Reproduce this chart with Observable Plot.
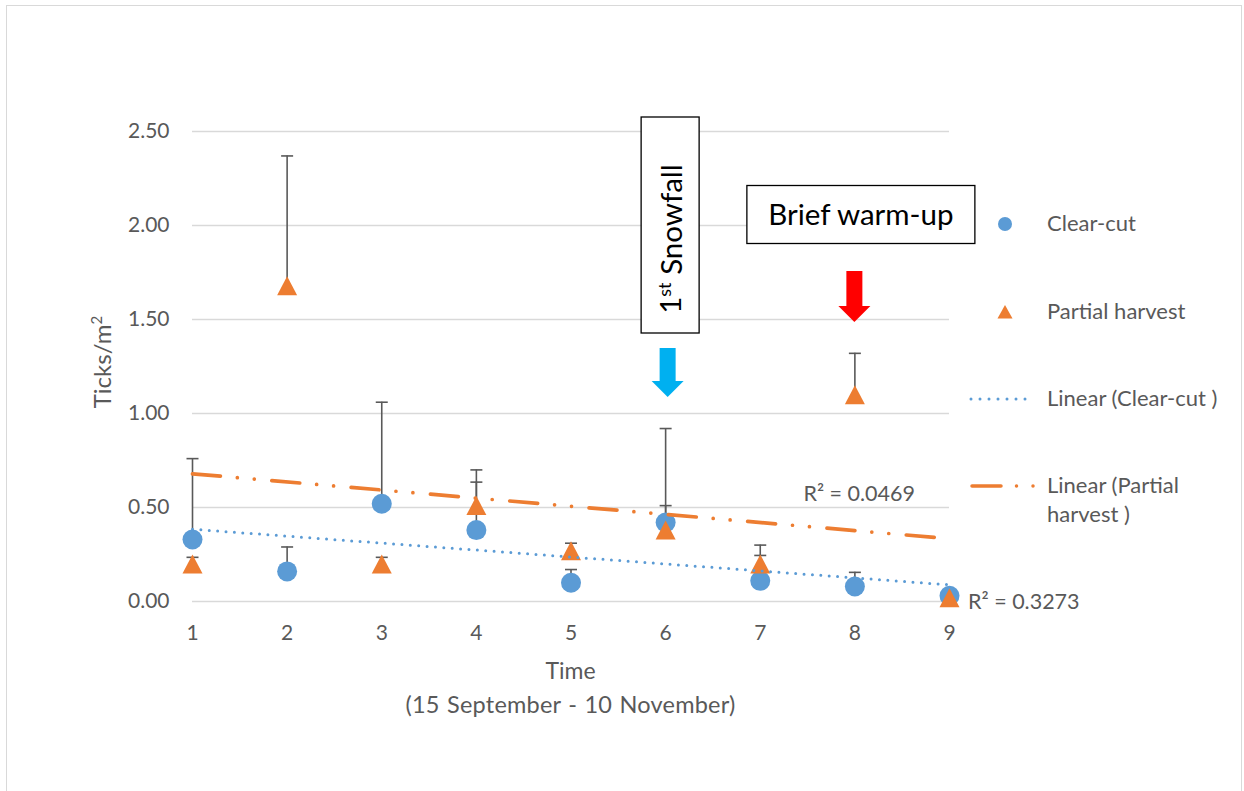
<!DOCTYPE html>
<html><head><meta charset="utf-8">
<script src="https://cdn.jsdelivr.net/npm/d3@7"></script>
<script src="https://cdn.jsdelivr.net/npm/@observablehq/plot@0.6"></script>
<style>
body{margin:0;background:#fff;font-family:Lato,"Open Sans",sans-serif;}
#wrap{position:relative;width:1244px;height:791px;overflow:hidden;background:#fff}
#frame{position:absolute;left:6px;top:5px;width:1236px;height:830px;border:1.5px solid #d9d9d9;box-sizing:border-box}
#chart{position:absolute;left:0;top:0}
#legend{position:absolute;left:0;top:0;width:1244px;height:791px;pointer-events:none;color:#595959;font-size:22px;font-family:Lato,sans-serif}
.li{position:absolute;left:1047px;line-height:29px;white-space:nowrap}
.sw{position:absolute;left:960px}
</style></head><body>
<div id="wrap"><div id="frame"></div><div id="chart"></div><div id="legend"></div></div>
<script>
// ---- data ----
const times = [1, 2, 3, 4, 5, 6, 7, 8, 9];
const clearCut = [0.33, 0.16, 0.52, 0.38, 0.10, 0.42, 0.11, 0.08, 0.03];
const clearCutErr = [0.43, 0.13, 0.54, 0.255, 0.07, 0.50, 0.135, 0.075, 0];
const partial = [0.20, 1.68, 0.20, 0.51, 0.27, 0.38, 0.20, 1.10, 0.02];
const partialErr = [0.035, 0.69, 0.035, 0.19, 0.04, 0.13, 0.10, 0.22, 0];
const yTicks = [0, 0.5, 1.0, 1.5, 2.0, 2.5];
const seriesNames = ["Clear-cut", "Partial harvest"];
const trendNames = ["Linear (Clear-cut )", "Linear (Partial\nharvest )"];
const r2Labels = ["R² = 0.3273", "R² = 0.0469"];
const events = [
  {t: 6, label: "Snowfall", sup: "st", num: "1", kind: "snow"},
  {t: 8, label: "Brief warm-up", kind: "warm"}
];
const xTitle = ["Time", "(15 September - 10 November)"];
const yTitle = ["Ticks/m", "2"];

// ---- styles ----
const BLUE = "#5b9bd5", ORANGE = "#ed7d31", GREY = "#595959";

const cc = times.map((t, i) => ({t, v: clearCut[i], top: clearCut[i] + clearCutErr[i], e: clearCutErr[i]}));
const ph = times.map((t, i) => ({t, v: partial[i], top: partial[i] + partialErr[i], e: partialErr[i]}));
const errs = [...cc, ...ph].filter(d => d.e > 0);

const triangle = {draw(ctx, size) { const r = Math.sqrt(size / Math.PI); ctx.moveTo(0, -r * 0.95); ctx.lineTo(r, r * 0.95); ctx.lineTo(-r, r * 0.95); ctx.closePath(); }};
const cap = {draw(ctx, size) { const r = Math.sqrt(size / Math.PI); ctx.moveTo(-r, 0); ctx.lineTo(r, 0); }};

const FONT = "Lato, sans-serif";
const plot = Plot.plot({
  width: 1244, height: 791,
  marginTop: 131, marginBottom: 190, marginLeft: 192, marginRight: 295,
  style: {fontFamily: FONT, fontSize: "21px", color: GREY, background: "transparent", overflow: "visible"},
  x: {domain: [1, 9], ticks: times, tickFormat: d3.format("d"), tickSize: 0, tickPadding: 24, label: null},
  y: {domain: [0, 2.5], ticks: yTicks, tickFormat: d3.format(".2f"), tickSize: 0, tickPadding: 23, label: null},
  marks: [
    Plot.gridY(yTicks, {stroke: "#d9d9d9", strokeOpacity: 1, strokeWidth: 1.5}),
    Plot.ruleX(errs, {x: "t", y1: "v", y2: "top", stroke: GREY, strokeWidth: 1.6}),
    Plot.dot(errs, {x: "t", y: "top", symbol: cap, r: 6, stroke: GREY, strokeWidth: 1.6, fill: "none"}),
    Plot.dot(cc, {x: "t", y: "v", r: 10, fill: BLUE, symbol: "circle"}),
    Plot.dot(ph, {x: "t", y: "v", r: 10, fill: ORANGE, symbol: triangle}),
    Plot.linearRegressionY(cc, {x: "t", y: "v", ci: 0, stroke: BLUE, strokeWidth: 3, strokeDasharray: "0 8.4", strokeLinecap: "round"}),
    Plot.linearRegressionY(ph, {x: "t", y: "v", ci: 0, stroke: ORANGE, strokeWidth: 3.7, strokeDasharray: "28 17 0 17 0 17.6", strokeLinecap: "round"})
  ]
});
document.getElementById("chart").appendChild(plot);

const sx = plot.scale("x"), sy = plot.scale("y");
const X = v => sx.apply(v), Y = v => sy.apply(v);
const svg = d3.select(plot);

// regression helpers for R² label anchoring
function fit(vals) {
  const mx = d3.mean(times), my = d3.mean(vals);
  const b = d3.sum(times, (t, i) => (t - mx) * (vals[i] - my)) / d3.sum(times, t => (t - mx) ** 2);
  return t => my + b * (t - mx);
}
const fCC = fit(clearCut), fPH = fit(partial);
const last = times[times.length - 1];
svg.append("text").attr("x", X(last) + 19).attr("y", Y(fCC(last)) + 17).attr("dy", "0.35em").attr("text-anchor", "start")
  .attr("fill", GREY).attr("font-family", FONT).attr("font-size", 21.5).text(r2Labels[0]);
svg.append("text").attr("x", X(last) - 34).attr("y", Y(fPH(last)) - 45).attr("dy", "0.35em").attr("text-anchor", "end")
  .attr("fill", GREY).attr("font-family", FONT).attr("font-size", 21.5).text(r2Labels[1]);

// axis titles
const midX = (X(1) + X(9)) / 2;
svg.append("text").attr("x", midX).attr("y", 671).attr("dy", "0.35em").attr("text-anchor", "middle")
  .attr("fill", GREY).attr("font-family", FONT).attr("font-size", 23).text(xTitle[0]);
svg.append("text").attr("x", midX).attr("y", 705).attr("dy", "0.35em").attr("text-anchor", "middle")
  .attr("fill", GREY).attr("font-family", FONT).attr("font-size", 23.5).attr("word-spacing", 1.2).attr("letter-spacing", 0.2).text(xTitle[1]);
const yt = svg.append("text").attr("transform", `translate(103,${(Y(0) + Y(2.5)) / 2 - 4}) rotate(-90)`).attr("dy", "0.35em")
  .attr("text-anchor", "middle").attr("fill", GREY).attr("font-family", FONT).attr("font-size", 24);
yt.append("tspan").text(yTitle[0]);
yt.append("tspan").attr("font-size", 15).attr("dy", "-0.6em").text(yTitle[1]);

// event annotations
function blockArrow(g, cx, top, tip, color) {
  const sw = 8, hw = 16, headLen = 16;
  g.append("path").attr("fill", color)
    .attr("d", `M${cx - sw},${top}L${cx + sw},${top}L${cx + sw},${tip - headLen}L${cx + hw},${tip - headLen}L${cx},${tip}L${cx - hw},${tip - headLen}L${cx - sw},${tip - headLen}Z`);
}
const ann = svg.append("g");
events.forEach(ev => {
  const cx = X(ev.t);
  if (ev.kind === "snow") {
    ann.append("rect").attr("x", cx - 24).attr("y", 117).attr("width", 58).attr("height", 216)
      .attr("fill", "#fff").attr("stroke", "#000").attr("stroke-width", 1.3);
    const t = ann.append("text").attr("transform", `translate(${cx + 6},239) rotate(-90)`).attr("dy", "0.35em")
      .attr("text-anchor", "middle").attr("fill", "#000").attr("font-family", FONT).attr("font-size", 29.5);
    t.append("tspan").text(ev.num);
    t.append("tspan").attr("font-size", 18).attr("dy", "-0.6em").text(ev.sup);
    t.append("tspan").attr("dy", "0.38em").text(" " + ev.label);
    blockArrow(ann, cx + 2.5, 348, 397, "#00b0f0");
  } else {
    ann.append("rect").attr("x", cx - 107.5).attr("y", 185.5).attr("width", 228).attr("height", 58)
      .attr("fill", "#fff").attr("stroke", "#000").attr("stroke-width", 1.3);
    ann.append("text").attr("x", cx + 6.5).attr("y", 214.5).attr("dy", "0.35em").attr("text-anchor", "middle")
      .attr("fill", "#000").attr("font-family", FONT).attr("font-size", 29.5).text(ev.label);
    blockArrow(ann, cx, 271, 322, "#ff0000");
  }
});

// legend
const leg = document.getElementById("legend");
const items = [
  {name: seriesNames[0], y: 222, sw: `<svg width="90" height="20"><circle cx="45" cy="10" r="7" fill="${BLUE}"/></svg>`},
  {name: seriesNames[1], y: 310, sw: `<svg width="90" height="20"><path d="M45,3L52.5,16.5L37.5,16.5Z" fill="${ORANGE}"/></svg>`},
  {name: trendNames[0], y: 397, sw: `<svg width="90" height="20"><line x1="11" x2="74" y1="10" y2="10" stroke="${BLUE}" stroke-width="3" stroke-linecap="round" stroke-dasharray="0 9"/></svg>`},
  {name: trendNames[1], y: 484, sw: `<svg width="90" height="20"><line x1="12" x2="75" y1="10" y2="10" stroke="${ORANGE}" stroke-width="3.5" stroke-linecap="round" stroke-dasharray="29 15.5 0 16.5 0 20"/></svg>`}
];
items.forEach(it => {
  const s = document.createElement("div"); s.className = "sw"; s.style.top = (it.y - 10) + "px"; s.innerHTML = it.sw; leg.appendChild(s);
  const t = document.createElement("div"); t.className = "li"; t.style.top = (it.y - 14.5) + "px";
  t.innerHTML = it.name.split("\n").join("<br>"); leg.appendChild(t);
});
</script>
</body></html>
